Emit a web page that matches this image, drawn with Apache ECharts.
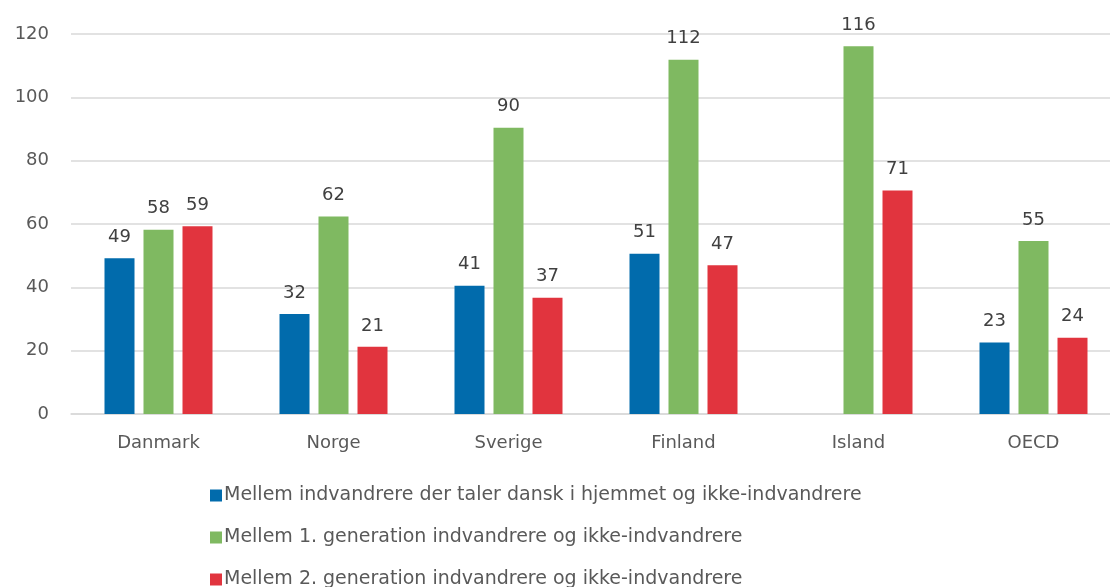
<!DOCTYPE html>
<html>
<head>
<meta charset="utf-8">
<script src="https://cdn.jsdelivr.net/npm/echarts@6/dist/echarts.min.js"></script>
<style>
  html, body { margin: 0; padding: 0; background: #fff; overflow: hidden; }
  #chart { width: 1122px; height: 587px; }
</style>
</head>
<body>
<div id="chart"></div>
<script>
const categories = ['Danmark', 'Norge', 'Sverige', 'Finland', 'Island', 'OECD'];
const seriesNames = [
  'Mellem indvandrere der taler dansk i hjemmet og ikke-indvandrere',
  'Mellem 1. generation indvandrere og ikke-indvandrere',
  'Mellem 2. generation indvandrere og ikke-indvandrere',
];
const danskHjemme = [49.2, 31.6, 40.5, 50.6, null, 22.6];
const forsteGen = [58.2, 62.4, 90.4, 111.9, 116.1, 54.6];
const andenGen = [59.3, 21.2, 36.7, 47.0, 70.6, 24.1];
const colors = ['#016bac', '#7fb961', '#e1343e'];

const textFont = 'DejaVu Sans';
const labelColor = '#404040';
const axisColor = '#595959';

const chart = echarts.init(document.getElementById('chart'));

const makeSeries = (name, data, color) => ({
  name,
  type: 'bar',
  data,
  barWidth: 30,
  barGap: '30%',
  itemStyle: { color },
  label: {
    show: true,
    position: 'top',
    distance: 12,
    color: labelColor,
    fontFamily: textFont,
    fontSize: 18,
    formatter: p => (p.value == null ? '' : Math.round(p.value)),
  },
});

// one legend per row, so they stack like the original
const makeLegend = (i, top) => ({
  orient: 'vertical',
  left: 205,
  top,
  itemWidth: 12,
  itemHeight: 12,
  icon: 'rect',
  textStyle: {
    color: axisColor,
    fontFamily: textFont,
    fontSize: 19,
    padding: [0, 0, 0, -3],
  },
  data: [seriesNames[i]],
});

chart.setOption({
  animation: false,
  textStyle: { fontFamily: textFont },
  grid: {
    left: 71,
    top: 34,
    width: 1050,
    height: 380,
  },
  xAxis: {
    type: 'category',
    data: categories,
    axisLine: { lineStyle: { color: '#d9d9d9', width: 1.5 } },
    axisTick: { show: false },
    axisLabel: {
      color: axisColor,
      fontFamily: textFont,
      fontSize: 18,
      margin: 20,
    },
  },
  yAxis: {
    type: 'value',
    min: 0,
    max: 120,
    interval: 20,
    axisLine: { show: false },
    axisTick: { show: false },
    splitLine: { lineStyle: { color: '#d9d9d9', width: 1.5 } },
    axisLabel: {
      color: axisColor,
      fontFamily: textFont,
      fontSize: 18,
      margin: 22,
    },
  },
  legend: [makeLegend(0, 481), makeLegend(1, 523), makeLegend(2, 565)],
  series: [
    makeSeries(seriesNames[0], danskHjemme, colors[0]),
    makeSeries(seriesNames[1], forsteGen, colors[1]),
    makeSeries(seriesNames[2], andenGen, colors[2]),
  ],
});
</script>
</body>
</html>
